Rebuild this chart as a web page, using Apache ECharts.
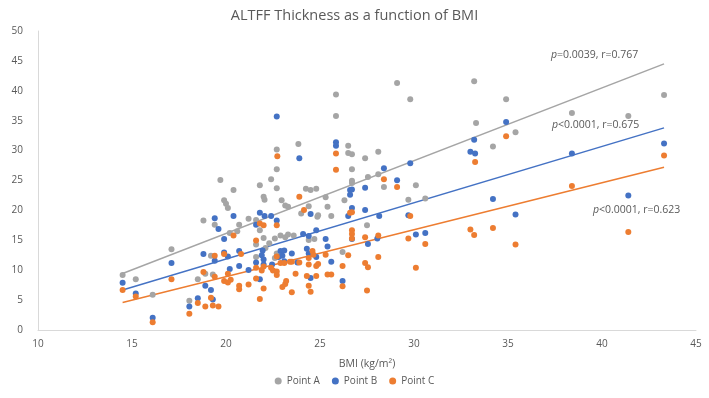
<!DOCTYPE html>
<html><head><meta charset="utf-8">
<script src="https://cdn.jsdelivr.net/npm/echarts@6/dist/echarts.min.js"></script>
<style>html,body{margin:0;padding:0;background:#fff}#c{width:709px;height:398px}</style>
</head><body><div id="c"></div>
<script>
const seriesNames = ['Point A', 'Point B', 'Point C'];
const pointA = [[14.5,9.2],[15.2,8.5],[16.1,5.9],[17.1,13.5],[18.8,18.3],[19.4,17.6],[19.2,12.4],[18.5,8.5],[18.9,9.4],[19.3,9.3],[18.05,4.9],[19.7,25.1],[23.85,31.1],[22.7,30.2],[22.7,26.9],[22.4,25.2],[20.4,23.4],[21.8,24.2],[22.7,23.7],[19.9,21.7],[20.0,21.1],[20.1,20.4],[22.0,22.3],[22.05,21.8],[22.96,21.7],[23.15,20.8],[23.3,20.6],[24.25,23.6],[24.5,23.4],[24.8,23.6],[24.0,19.5],[24.86,18.95],[20.7,17.6],[21.2,18.6],[21.6,18.4],[21.8,16.7],[20.2,16.2],[20.6,16.5],[22.0,15.4],[21.6,14.3],[22.3,14.5],[22.6,15.3],[22.9,15.8],[23.15,15.5],[23.3,15.95],[23.6,15.8],[24.4,15.05],[24.7,15.2],[21.6,12.2],[22.1,13.7],[22.7,12.8],[22.6,12.05],[29.1,41.3],[29.8,38.6],[25.85,39.4],[25.85,35.8],[26.5,30.8],[26.5,29.6],[26.7,29.4],[27.4,28.7],[28.1,29.8],[26.7,26.9],[28.4,23.9],[28.1,26.05],[27.55,25.6],[26.7,24.95],[26.7,24.6],[30.1,24.2],[26.3,21.7],[25.4,20.6],[25.6,19.05],[24.4,20.7],[24.9,19.2],[25.3,22.2],[27.5,17.5],[26.2,13.05],[29.7,21.8],[33.2,41.6],[34.9,38.6],[33.3,34.6],[35.4,33.05],[34.2,30.7],[30.6,22.0],[38.4,36.3],[41.4,35.8],[43.3,39.3]];
const pointB = [[14.5,7.9],[15.2,6.1],[16.1,2.05],[17.1,11.2],[19.4,18.7],[19.6,16.9],[18.8,12.7],[19.4,11.6],[18.9,7.4],[19.2,6.7],[19.3,5.1],[18.05,3.95],[18.5,5.3],[22.7,35.7],[23.9,28.7],[20.4,19.05],[21.8,19.6],[22.05,19.05],[22.4,19.05],[21.6,17.6],[22.7,18.3],[19.9,15.2],[24.1,16.05],[24.4,15.7],[24.8,16.7],[24.5,19.4],[19.9,12.95],[20.1,12.3],[20.7,13.2],[21.95,13.3],[21.9,12.5],[22.0,11.8],[22.9,13.2],[23.1,13.3],[23.5,12.8],[23.0,12.4],[22.8,12.2],[24.3,13.6],[24.4,12.8],[24.8,12.2],[23.8,11.3],[23.1,11.5],[22.45,10.95],[22.0,10.95],[21.6,11.3],[20.2,10.2],[20.7,10.7],[21.2,10.05],[21.8,8.5],[24.5,8.7],[25.85,31.4],[25.85,30.8],[28.4,27.05],[29.1,25.05],[29.8,27.9],[27.4,23.8],[26.6,23.4],[26.7,23.5],[26.6,22.6],[26.7,20.4],[26.5,19.05],[27.4,20.05],[28.15,19.05],[29.7,19.2],[26.7,15.2],[27.55,14.4],[28.05,15.3],[30.1,15.95],[30.6,16.2],[25.3,15.2],[25.4,13.95],[25.6,11.4],[26.2,8.2],[34.9,34.8],[33.2,31.8],[33.0,29.8],[33.25,29.5],[34.2,21.9],[35.4,19.3],[38.4,29.5],[43.3,31.2],[41.4,22.5]];
const pointC = [[14.5,6.7],[15.2,5.6],[16.1,1.3],[17.1,8.5],[19.4,12.4],[18.8,9.7],[19.4,8.9],[19.2,5.4],[18.05,2.7],[18.5,4.5],[18.9,3.95],[19.3,4.1],[19.6,3.95],[22.73,29.05],[23.9,22.3],[24.15,20.05],[21.8,17.8],[22.0,17.5],[22.7,17.5],[20.4,15.8],[21.6,14.95],[19.9,12.7],[20.8,12.7],[22.7,12.3],[24.6,13.2],[24.4,12.05],[22.9,11.2],[23.1,11.2],[23.4,11.4],[23.5,11.4],[23.9,11.3],[22.0,10.6],[21.9,9.95],[22.4,10.4],[22.5,9.95],[22.7,9.8],[22.7,9.2],[21.6,10.4],[20.1,9.4],[21.6,8.6],[21.2,7.6],[22.0,6.95],[21.8,5.2],[19.9,8.2],[20.1,7.95],[20.25,8.4],[20.7,7.4],[20.7,6.8],[23.0,7.2],[23.15,7.7],[23.2,8.2],[23.5,6.3],[23.7,9.4],[24.3,9.05],[24.4,7.4],[24.5,6.4],[24.8,9.05],[24.8,10.7],[25.85,29.5],[25.85,26.8],[28.4,25.2],[29.1,23.9],[26.6,19.6],[26.7,19.7],[29.8,19.05],[26.7,16.7],[26.7,16.05],[26.7,15.3],[27.4,15.5],[28.1,15.8],[29.7,15.3],[30.6,14.4],[25.3,12.6],[24.65,12.6],[26.5,12.5],[24.9,11.05],[24.4,10.95],[26.2,10.7],[27.4,11.2],[27.55,10.5],[28.1,12.2],[30.1,10.4],[25.4,9.3],[25.6,9.3],[26.2,7.3],[27.5,6.6],[34.9,32.4],[33.25,28.1],[33.0,16.8],[33.2,15.9],[34.2,17.05],[35.4,14.3],[38.4,24.1],[43.3,29.2],[41.4,16.4]];
// trend lines (endpoints)
const trendA = [[14.5,9.45],[43.3,44.5]];
const trendB = [[14.5,6.7],[43.3,33.8]];
const trendC = [[14.5,4.6],[43.3,27.2]];
const statLabels = ['=0.0039, r=0.767', '<0.0001, r=0.675', '<0.0001, r=0.623'];
const colors = ['#A5A5A5', '#4472C4', '#ED7D31'];
const txt = '#595959';
const font = '"Open Sans", "Noto Sans", sans-serif';

const chart = echarts.init(document.getElementById('c'), null, {renderer: 'canvas'});
const scatterData = [pointA, pointB, pointC];
const trends = [trendA, trendB, trendC];
const series = [];
scatterData.forEach((d, i) => {
  series.push({name: seriesNames[i], type: 'scatter', data: d, symbol: 'circle', symbolSize: 6,
    itemStyle: {color: colors[i], opacity: 1}, z: 3});
});
trends.forEach((d, i) => {
  series.push({name: 'trend' + i, type: 'line', data: d, symbol: 'none', silent: true,
    lineStyle: {color: colors[i], width: 1.5}, z: 2});
});
const annPos = [[551, 50], [552, 120], [593, 205]];
const graphic = statLabels.map((s, i) => ({
  type: 'text', left: annPos[i][0], top: annPos[i][1],
  style: {text: '{i|p}{n|' + s + '}', rich: {
    i: {fontStyle: 'italic', fontSize: 10.5, fill: txt, fontFamily: font},
    n: {fontSize: 10.5, fill: txt, fontFamily: font}}}
}));
chart.setOption({
  animation: false,
  textStyle: {fontFamily: font},
  title: {text: 'ALTFF Thickness as a function of BMI', left: 'center', top: 3,
    textStyle: {fontSize: 14.5, fontWeight: 'normal', color: txt, fontFamily: font}},
  grid: {left: 38, right: 13, top: 31, bottom: 68, containLabel: false, outerBoundsMode: 'none'},
  legend: {data: seriesNames, bottom: 7, left: 'center', icon: 'circle', itemWidth: 7, itemHeight: 7, itemGap: 12,
    textStyle: {fontSize: 10, color: txt, fontFamily: font}},
  xAxis: {type: 'value', min: 10, max: 45, interval: 5,
    name: 'BMI (kg/m²)', nameLocation: 'middle', nameGap: 29,
    nameTextStyle: {fontSize: 10.5, color: txt, fontFamily: font},
    axisLine: {show: true, lineStyle: {color: '#D9D9D9'}}, axisTick: {show: false},
    axisLabel: {fontSize: 10, color: txt, margin: 9, fontFamily: font}, splitLine: {show: false}},
  yAxis: {type: 'value', min: 0, max: 50, interval: 5,
    name: 'ALTFF Thickness (mm)', nameLocation: 'middle', nameGap: 30,
    nameTextStyle: {fontSize: 10.5, color: txt, fontFamily: font},
    axisLine: {show: true, lineStyle: {color: '#D9D9D9'}}, axisTick: {show: false},
    axisLabel: {fontSize: 10, color: txt, margin: 15, fontFamily: font}, splitLine: {show: false}},
  graphic: graphic,
  series: series
});
</script></body></html>
